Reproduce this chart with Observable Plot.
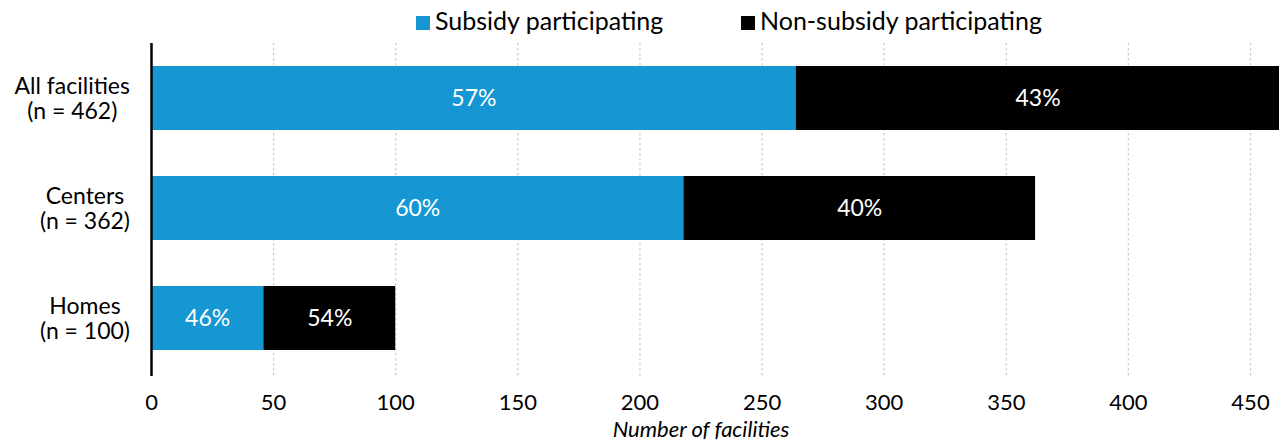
<!DOCTYPE html>
<html>
<head>
<meta charset="utf-8">
<script src="https://cdn.jsdelivr.net/npm/d3@7"></script>
<script src="https://cdn.jsdelivr.net/npm/@observablehq/plot@0.6"></script>
<style>
  html, body { margin: 0; padding: 0; background: #fff; }
  body { width: 1279px; height: 440px; overflow: hidden; font-family: Lato, "Noto Sans", sans-serif; }
  #legend { height: 40px; position: relative; font-size: 25px; line-height: 30px; color: #000; }
  .item { position: absolute; top: 5px; white-space: nowrap; }
  .sw { width: 14px; height: 14px; margin-right: 5px; display: inline-block; vertical-align: baseline; }
  #chart svg { overflow: visible; display: block; }
</style>
</head>
<body>
<div id="legend"></div>
<div id="chart"></div>
<script>
const categories = ["All facilities", "Centers", "Homes"];
const nTotals = [462, 362, 100];
const subsidy = [264, 218, 46];
const nonSubsidy = [198, 144, 54];
const seriesNames = ["Subsidy participating", "Non-subsidy participating"];
const seriesColors = ["#1696d2", "#000000"];
const xTicks = [0, 50, 100, 150, 200, 250, 300, 350, 400, 450];
const xLabel = "Number of facilities";

const rows = [];
categories.forEach((c, i) => {
  const tot = subsidy[i] + nonSubsidy[i];
  rows.push({cat: c, series: seriesNames[0], value: subsidy[i], pct: Math.round(subsidy[i] / tot * 100) + "%"});
  rows.push({cat: c, series: seriesNames[1], value: nonSubsidy[i], pct: Math.round(nonSubsidy[i] / tot * 100) + "%"});
});
const catLabel = new Map(categories.map((c, i) => [c, `${c}\n(n = ${nTotals[i]})`]));

// legend
const legend = document.getElementById("legend");
const legendX = [416, 741];
seriesNames.forEach((s, i) => {
  const d = document.createElement("div");
  d.className = "item";
  d.style.left = legendX[i] + "px";
  d.innerHTML = `<span class="sw" style="background:${seriesColors[i]}"></span>${s}`;
  legend.appendChild(d);
});

const plot = Plot.plot({
  width: 1279,
  height: 400,
  marginTop: 3,
  marginBottom: 67,
  marginLeft: 151,
  marginRight: 29,
  style: {fontFamily: "Lato, 'Noto Sans', sans-serif", fontSize: "22px", color: "#000"},
  x: {domain: [0, 450]},
  y: {domain: categories, paddingInner: 0.418, paddingOuter: 0.209, align: 0.5},
  color: {domain: seriesNames, range: seriesColors},
  marks: [
    Plot.ruleX(xTicks.filter(t => t > 0), {stroke: "#cfcfcf", strokeWidth: 1.3, strokeDasharray: "2.5,2.5", insetBottom: -3}),
    Plot.barX(rows, Plot.stackX({y: "cat", x: "value", fill: "series", order: seriesNames})),
    Plot.text(rows, Plot.stackX({y: "cat", x: "value", z: "series", order: seriesNames, text: "pct", fill: "white", fontSize: 23})),
    Plot.ruleX([0], {stroke: "#000", strokeWidth: 2.5, insetBottom: -3}),
    Plot.axisX({ticks: xTicks, tickSize: 0, tickPadding: 21, label: null, fontSize: 22}),
    Plot.axisY({tickSize: 0, tickPadding: 20, label: null, fontSize: 23, tickFormat: c => catLabel.get(c), lineHeight: 1.087}),
    Plot.text([xLabel], {frameAnchor: "bottom", lineAnchor: "middle", dy: 56, fontStyle: "italic", fontSize: 22, fill: "#000"})
  ]
});
document.getElementById("chart").appendChild(plot);

// center each multi-line y label within its own block, block right-aligned at x=130
const svg = d3.select(plot);
const svgLeft = plot.getBoundingClientRect().left;
svg.selectAll("g[aria-label='y-axis tick label'] text").each(function() {
  const t = d3.select(this);
  const spans = t.selectAll("tspan").nodes();
  if (!spans.length) return;
  t.attr("text-anchor", "middle");
  spans.forEach(s => s.setAttribute("x", 0));
  const tr = this.getAttribute("transform") || "";
  const m = tr.match(/translate\(([-\d.]+),\s*([-\d.]+)\)/);
  if (!m) return;
  const x0 = +m[1], y0 = +m[2];
  const rect = this.getBoundingClientRect();
  const shift = 130 - (rect.right - svgLeft);
  t.attr("transform", `translate(${x0 + shift},${y0})`);
});
</script>
</body>
</html>
